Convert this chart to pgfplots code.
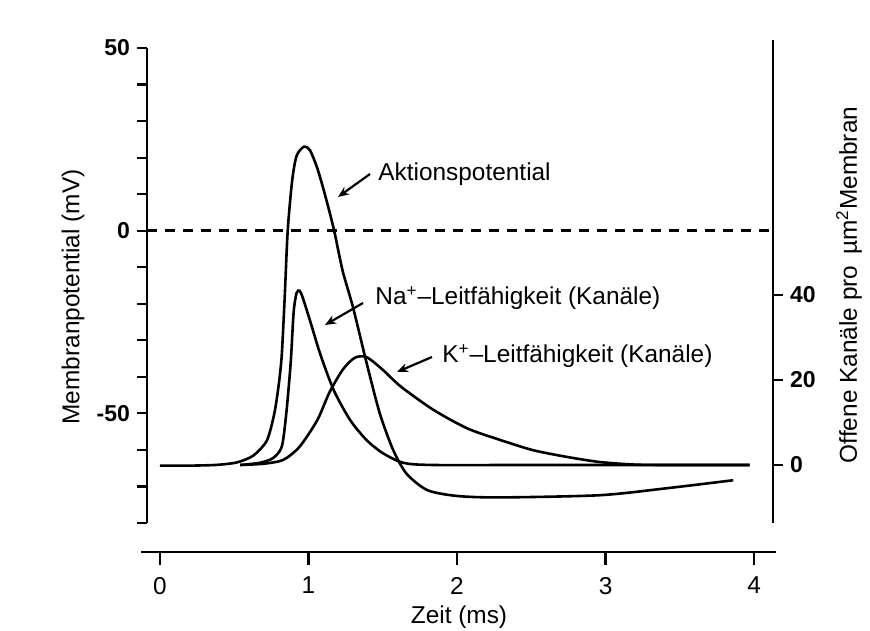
\documentclass[border=0pt]{standalone}
\usepackage{pgfplots}
\pgfplotsset{compat=1.18}
\usepackage{fontspec}
\setmainfont{Liberation Sans}
\usetikzlibrary{arrows.meta}

\begin{document}
\begin{tikzpicture}[x=1pt,y=1pt]
\path[use as bounding box] (0,0) rectangle (435,315);
\pgfplotsset{
  every axis/.append style={scale only axis, clip=false,
    axis line style={line width=1.2pt,-},
    tick style={line width=1.1pt,black},
    /pgf/number format/assume math mode=true},
}
% --- membrane potential (left axis)
\begin{axis}[at={(73.5pt,53.5pt)}, anchor=south west, width=313pt, height=237.5pt,
  xmin=-0.0875, xmax=4.128, ymin=-80, ymax=50,
  axis x line=none, axis y line*=left,
  ytick={-50,0,50}, yticklabels={-50,0,50}, minor ytick={-80,-70,...,40},
  tick align=outside, major tick length=5pt, minor tick length=5pt,
  yticklabel style={font=\bfseries\fontsize{11.5}{13}\selectfont},
]
\addplot[line width=1.3pt, dash pattern=on 5pt off 4pt] coordinates {(-0.0875,0) (4.128,0)};
\addplot[line width=1.3pt, smooth, tension=0.45] coordinates {
(0,-64.3) (0.2,-64.3) (0.38,-64.1) (0.52,-63.4) (0.63,-61.5) (0.72,-57.4) (0.77,-50)
(0.80,-42) (0.82,-34) (0.84,-18) (0.86,0) (0.89,13.7) (0.92,20.5) (0.97,23) (1.01,22)
(1.06,17) (1.11,10) (1.17,0.5) (1.23,-11) (1.30,-21) (1.39,-36) (1.48,-50) (1.57,-60)
(1.66,-66.5) (1.80,-71) (2.0,-72.6) (2.29,-73) (2.96,-72.4) (3.41,-70.5) (3.86,-68.3)};
\end{axis}
% --- open channels (right axis)
\begin{axis}[at={(73.5pt,53.5pt)}, anchor=south west, width=313pt, height=241.5pt,
  xmin=-0.0875, xmax=4.128, ymin=-13.65, ymax=100,
  axis x line=none, axis y line*=right,
  ytick={0,20,40}, yticklabels={0,20,40},
  tick align=outside, major tick length=5pt,
  yticklabel style={font=\bfseries\fontsize{11.5}{13}\selectfont},
]
\addplot[line width=1.3pt, smooth, tension=0.45] coordinates {
(0.54,0) (0.67,0.5) (0.76,1.6) (0.82,4.3) (0.85,12) (0.88,24) (0.90,36) (0.92,40.5)
(0.94,41) (0.96,39.5) (1.01,34) (1.08,26) (1.17,17.6) (1.28,10.6) (1.39,5.9) (1.50,2.8)
(1.64,0.5) (1.84,0) (2.5,0) (3.97,0)};
\addplot[line width=1.3pt, smooth, tension=0.45] coordinates {
(0.54,0) (0.70,0.3) (0.83,1.2) (0.94,4.3) (1.06,10.6) (1.14,17) (1.23,22.4) (1.31,25.2)
(1.39,25.4) (1.50,22.4) (1.62,18.5) (1.84,13) (2.07,8.6) (2.29,5.9) (2.51,3.5) (2.74,1.9)
(2.96,0.7) (3.19,0.1) (3.4,0) (3.97,0)};
\end{axis}
% --- time axis
\begin{axis}[at={(70.5pt,39pt)}, anchor=south west, width=317.5pt, height=20pt,
  xmin=-0.128, xmax=4.148, ymin=0, ymax=1,
  axis y line=none, axis x line*=bottom,
  xtick={0,1,2,3,4}, xticklabels={0,1,2,3,4},
  tick align=outside, major tick length=6.5pt,
  xticklabel style={font=\fontsize{12.2}{14}\selectfont, yshift=-2.5pt},
]
\addplot[draw=none] coordinates {(0,0.5)};
\end{axis}
\node[rotate=90, font=\fontsize{12.2}{14}\selectfont] at (36.5,166.5) {Membranpotential (mV)};
\node[rotate=90, font=\fontsize{12.2}{14}\selectfont] at (424.5,172.5) {Offene Kanäle pro\,~µm\textsuperscript{2}Membran};
\node[font=\fontsize{12.2}{14}\selectfont] at (229.5,6.5) {Zeit (ms)};
% annotations
\node[anchor=base west, inner sep=0pt, font=\fontsize{12.2}{14}\selectfont] at (189,224.5) {Aktionspotential};
\node[anchor=base west, inner sep=0pt, font=\fontsize{12.2}{14}\selectfont] at (187.5,162.5) {Na\textsuperscript{+}–Leitfähigkeit (Kanäle)};
\node[anchor=base west, inner sep=0pt, font=\fontsize{12.2}{14}\selectfont] at (221,133.5) {K\textsuperscript{+}–Leitfähigkeit (Kanäle)};
\draw[line width=1.1pt, -{Stealth[length=5.5pt,width=4.5pt]}] (185,228) -- (169,216.5);
\draw[line width=1.1pt, -{Stealth[length=5.5pt,width=4.5pt]}] (181.5,163.5) -- (162.5,152.5);
\draw[line width=1.1pt, -{Stealth[length=5.5pt,width=4.5pt]}] (216,136.5) -- (198.5,129);
\end{tikzpicture}
\end{document}
